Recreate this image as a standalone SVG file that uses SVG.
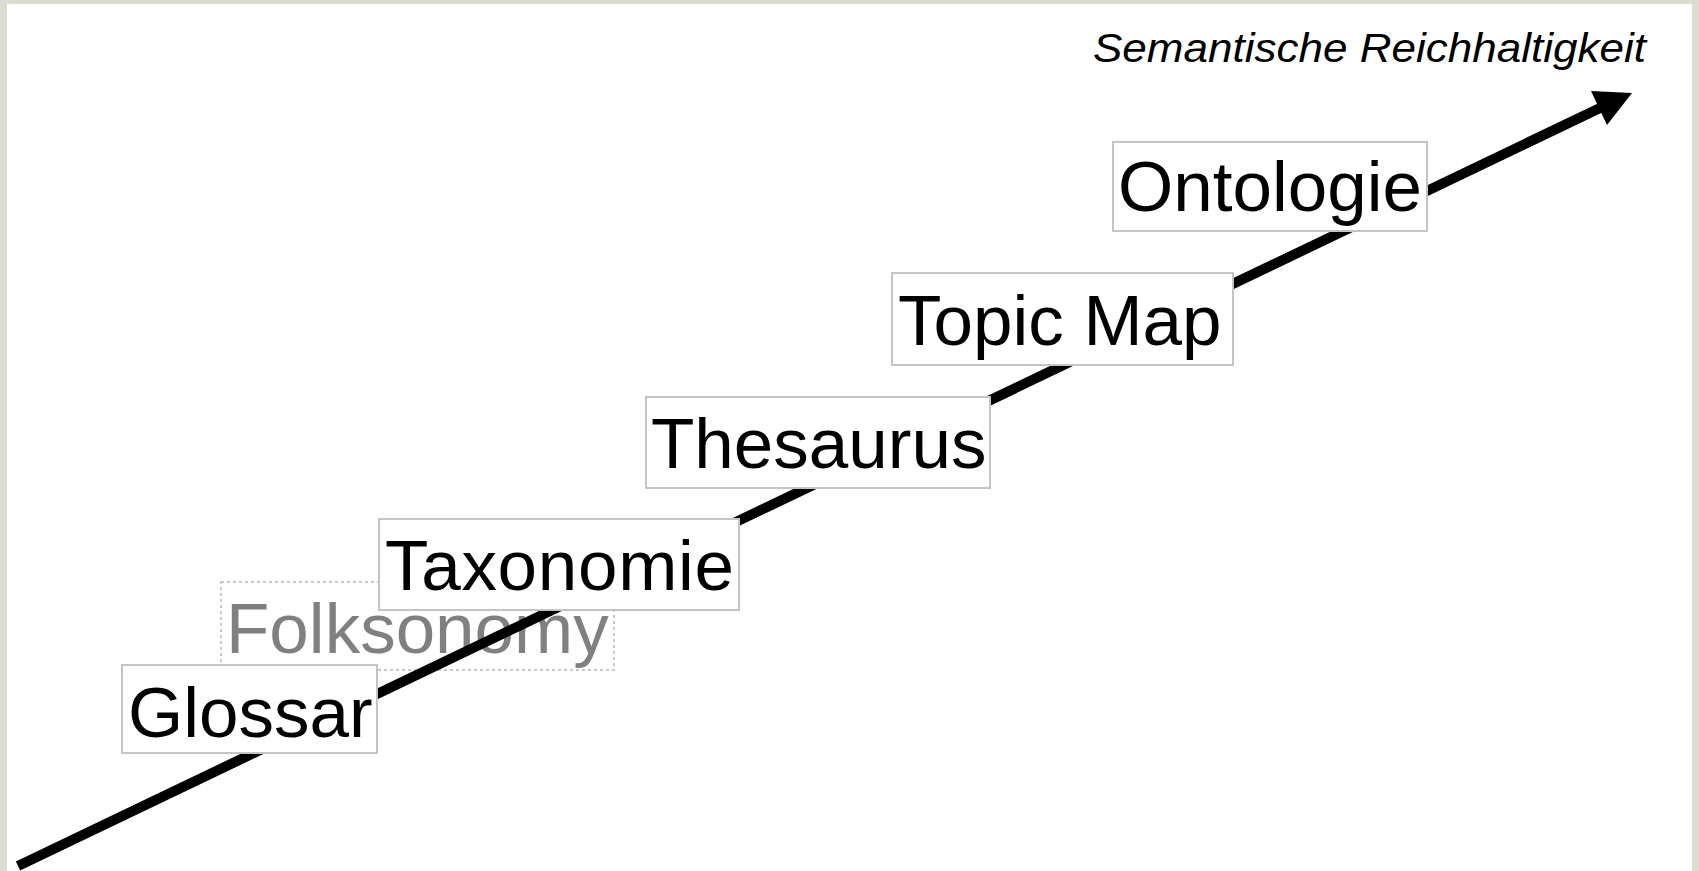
<svg xmlns="http://www.w3.org/2000/svg" width="1699" height="871" viewBox="0 0 1699 871">
<style>
.box{fill:#ffffff;stroke:#c4c4c4;stroke-width:2}
.dot{fill:#ffffff;stroke:#c8c8c8;stroke-width:2;stroke-dasharray:3 3}
.lbl{font-family:"Liberation Sans",Arial,sans-serif;font-size:71px;fill:#000}
.gray{fill:#808080}
.title{font-family:"Liberation Sans",Arial,sans-serif;font-size:41px;font-style:italic;fill:#000}
</style>
<rect x="0" y="0" width="1699" height="871" fill="#dcdcd0"/>
<rect x="7" y="4" width="1685" height="867" fill="#ffffff"/>
<g id="folksonomy">
<rect class="dot" x="221" y="582" width="393" height="88"/>
<text class="lbl gray" x="226" y="653">Folksonomy</text>
</g>
<g id="connectors">
<line x1="18" y1="866" x2="1600" y2="108" stroke="#000" stroke-width="10"/>
<polygon points="1591,91 1632,93 1607,125" fill="#000"/>
</g>
<g id="glossar">
<rect class="box" x="122" y="665" width="255" height="88"/>
<text class="lbl" x="128" y="737">Glossar</text>
</g>
<g id="taxonomie">
<rect class="box" x="379" y="519" width="360" height="91"/>
<text class="lbl" x="385" y="590" textLength="349" lengthAdjust="spacing">Taxonomie</text>
</g>
<g id="thesaurus">
<rect class="box" x="646" y="397" width="344" height="91"/>
<text class="lbl" x="651" y="468">Thesaurus</text>
</g>
<g id="topicmap">
<rect class="box" x="892" y="273" width="341" height="92"/>
<text class="lbl" x="898" y="345">Topic Map</text>
</g>
<g id="ontologie">
<rect class="box" x="1113" y="142" width="314" height="89"/>
<text class="lbl" x="1118" y="211">Ontologie</text>
</g>
<g id="title">
<text class="title" x="1093" y="62" textLength="553" lengthAdjust="spacingAndGlyphs">Semantische Reichhaltigkeit</text>
</g>
</svg>
